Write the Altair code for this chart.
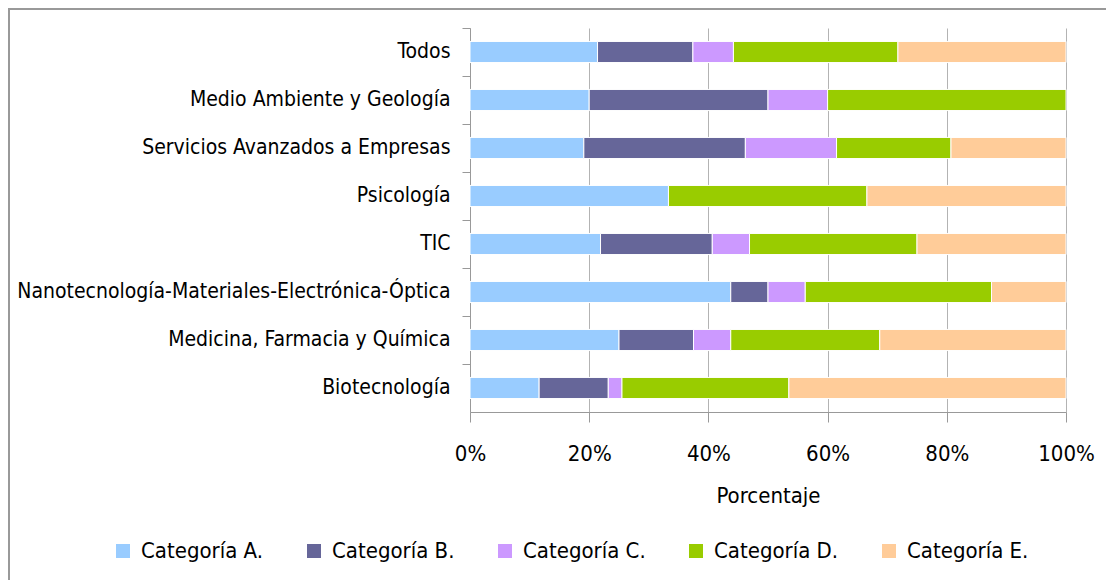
import altair as alt
import pandas as pd

sectors = [
    "Todos",
    "Medio Ambiente y Geología",
    "Servicios Avanzados a Empresas",
    "Psicología",
    "TIC",
    "Nanotecnología-Materiales-Electrónica-Óptica",
    "Medicina, Farmacia y Química",
    "Biotecnología",
]
categories = ["Categoría A.", "Categoría B.", "Categoría C.", "Categoría D.", "Categoría E."]
colors = ["#99CCFF", "#666699", "#CC99FF", "#99CC00", "#FFCC99"]

cat_a = [21.4, 20.0, 19.1, 33.3, 21.9, 43.75, 25.0, 11.6]
cat_b = [16.0, 30.0, 27.1, 0.0, 18.75, 6.25, 12.5, 11.6]
cat_c = [6.8, 10.0, 15.3, 0.0, 6.25, 6.25, 6.25, 2.3]
cat_d = [27.6, 40.0, 19.2, 33.3, 28.1, 31.25, 25.0, 28.0]
cat_e = [28.2, 0.0, 19.3, 33.4, 25.0, 12.5, 31.25, 46.5]

x_ticks = [0, 0.2, 0.4, 0.6, 0.8, 1.0]

FONT = "Liberation Sans Narrow, Arial Narrow, DejaVu Sans Condensed, Liberation Sans, sans-serif"

rows = []
for series, name, idx in zip([cat_a, cat_b, cat_c, cat_d, cat_e], categories, range(5)):
    for s, v in zip(sectors, series):
        rows.append({"Sector": s, "Categoria": name, "value": v, "idx": idx})
df = pd.DataFrame(rows)

bars = alt.Chart(df).transform_filter("datum.value > 0").mark_bar(
    height=alt.RelativeBandSize(0.44), stroke="white", strokeWidth=1
).encode(
    x=alt.X(
        "value:Q",
        stack="normalize",
        scale=alt.Scale(domain=[0, 1], nice=False),
        axis=alt.Axis(
            values=x_ticks,
            format="%",
            title="Porcentaje",
            grid=True,
            gridColor="#b3b3b3",
            gridWidth=1,
            domainColor="#999999",
            tickColor="#999999",
            tickSize=10,
            labelFlush=False,
            labelFontSize=22,
            labelPadding=21,
            labelFont=FONT,
            labelColor="black",
            titleFont=FONT,
            titleFontSize=22,
            titleFontWeight="normal",
            titleColor="black",
            titlePadding=21,
        ),
    ),
    y=alt.Y(
        "Sector:N",
        sort=sectors,
        scale=alt.Scale(paddingInner=0, paddingOuter=0),
        axis=alt.Axis(
            title=None,
            bandPosition=0,
            domainColor="#999999",
            tickColor="#999999",
            tickSize=8,
            labelFontSize=21,
            labelFont=FONT,
            labelColor="black",
            labelPadding=12,
            labelLimit=600,
        ),
    ),
    color=alt.Color(
        "Categoria:N",
        scale=alt.Scale(domain=categories, range=colors),
        legend=alt.Legend(
            title=None,
            orient="none",
            direction="horizontal",
            legendX=-358,
            legendY=512,
            symbolType="square",
            symbolSize=196,
            symbolStrokeWidth=0,
            labelFontSize=22,
            labelFont=FONT,
            labelColor="black",
            labelOffset=7,
            columnPadding=39,
            padding=0,
            labelLimit=400,
        ),
    ),
    order=alt.Order("idx:Q", sort="ascending"),
)

frame = alt.Chart(pd.DataFrame({"k": [0]})).mark_rect(
    fill=None, stroke="#999999", strokeWidth=2
).encode(
    x=alt.value(-461),
    x2=alt.value(800),
    y=alt.value(-19),
    y2=alt.value(800),
)

chart = alt.layer(frame, bars).properties(
    width=596,
    height=384,
    autosize=alt.AutoSizeParams(type="none"),
    padding={"left": 462, "top": 20, "right": 40, "bottom": 168},
    background="white",
).configure_view(stroke=None)

chart.save("out.html", embed_options={"renderer": "svg", "actions": False})
